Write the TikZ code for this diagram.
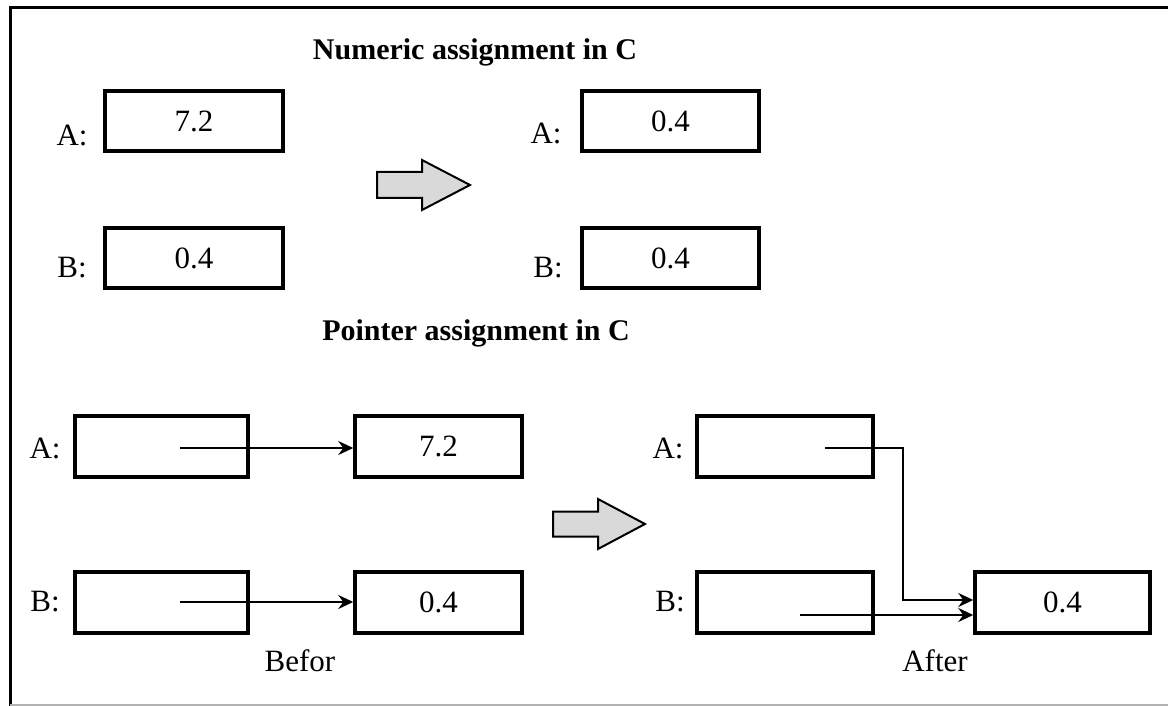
\documentclass[tikz,border=0pt]{standalone}
\usepackage{fontspec}
\setmainfont{Liberation Serif}
\usetikzlibrary{arrows.meta}
\begin{document}
\begin{tikzpicture}[x=1pt,y=-1pt,
  valbox/.style={draw,line width=3.5pt,minimum height=60pt,inner sep=0pt,font=\fontsize{31}{36}\selectfont},
  lbl/.style={inner sep=0pt,font=\fontsize{31}{36}\selectfont},
  ttl/.style={inner sep=0pt,font=\fontsize{30}{36}\selectfont\bfseries},
  ptr/.style={line width=1.8pt,-{Stealth[length=15pt,width=14pt,inset=5pt]}},
  blockarrow/.style={draw,line width=2pt,fill=black!15,line join=miter}]
\useasboundingbox (0,0) rectangle (1168,706);
% frame
\draw[line width=3pt] (1168,8) -- (10,8) -- (10,706);
\draw[line width=1.2pt,black!30] (10,705) -- (1168,705);

% numeric assignment
\node[ttl] (t1) at (475,52) {Numeric assignment in C};
\node[valbox,minimum width=178pt] (nA) at (194,121) {7.2};
\node[valbox,minimum width=178pt] (nB) at (194,258) {0.4};
\node[valbox,minimum width=177pt] (nA2) at (670.5,121) {0.4};
\node[valbox,minimum width=177pt] (nB2) at (670.5,258) {0.4};
\node[lbl] (lnA) at (72,135) {A:};
\node[lbl] (lnB) at (72,268) {B:};
\node[lbl] (lnA2) at (546,133) {A:};
\node[lbl] (lnB2) at (548,268) {B:};
\draw[blockarrow] (377,172) -- (422,172) -- (422,160) -- (470,185) -- (422,210) -- (422,198) -- (377,198) -- cycle;

% pointer assignment
\node[ttl] (t2) at (476,333) {Pointer assignment in C};
\node[valbox,minimum width=173pt,minimum height=61pt] (pA) at (161.5,446.5) {};
\node[valbox,minimum width=173pt,minimum height=61pt] (pB) at (161.5,602.5) {};
\node[valbox,minimum width=167pt,minimum height=61pt] (pV1) at (438.5,446.5) {7.2};
\node[valbox,minimum width=167pt,minimum height=61pt] (pV2) at (438.5,602.5) {0.4};
\node[valbox,minimum width=176pt,minimum height=61pt] (qA) at (785,446.5) {};
\node[valbox,minimum width=176pt,minimum height=61pt] (qB) at (785,602.5) {};
\node[valbox,minimum width=175pt,minimum height=61pt] (qV) at (1062.5,602.5) {0.4};
\node[lbl] (lpA) at (45,448) {A:};
\node[lbl] (lpB) at (45,602) {B:};
\node[lbl] (lqA) at (668,448) {A:};
\node[lbl] (lqB) at (670,602) {B:};
\node[lbl] (before) at (300,661) {Befor};
\node[lbl] (after) at (935,661) {After};

\coordinate (sA) at (180,448);
\coordinate (sB) at (180,602);
\coordinate (sqA) at (825,448);
\coordinate (sqB) at (800,615);
\coordinate (bend) at (903,448);
\draw[ptr] (sA) -- (sA -| pV1.west);
\draw[ptr] (sB) -- (sB -| pV2.west);
\draw[ptr] (sqA) -- (bend) -- (bend |- 0,600) -- (qV.west |- 0,600);
\draw[ptr] (sqB) -- (sqB -| qV.west);
\draw[blockarrow] (553,511.5) -- (598,511.5) -- (598,499) -- (645,524) -- (598,549) -- (598,536.5) -- (553,536.5) -- cycle;
\end{tikzpicture}
\end{document}
